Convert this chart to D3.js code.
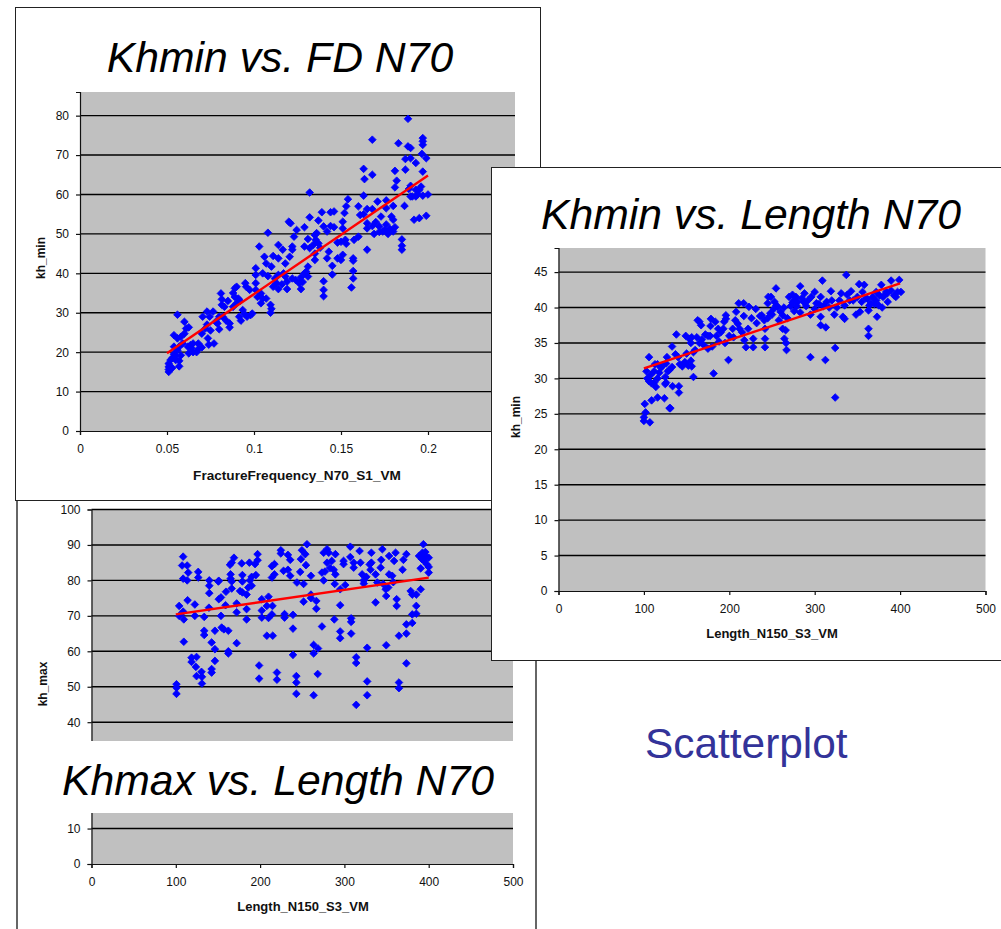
<!DOCTYPE html>
<html><head><meta charset="utf-8">
<script src="https://cdn.jsdelivr.net/npm/d3@7"></script>
<style>html,body{margin:0;padding:0;background:#fff}svg{display:block}text{font-family:"Liberation Sans",Arial,sans-serif}</style>
</head><body><div id="c"></div>
<script>
const fdPoints=[[.051,15],[.051,15.6],[.051,16.3],[.051,17.1],[.052,18],[.053,16],[.053,18.5],[.054,19.5],[.055,18],[.055,19],[.056,20.5],[.057,16.4],[.057,17.8],[.058,19.2],[.056,29.5],[.054,24.3],[.056,23.5],[.058,23.9],[.06,24.7],[.061,26],[.06,27.7],[.0625,26.3],[.054,21.4],[.057,21.4],[.059,22.2],[.062,21.4],[.0635,21.8],[.065,22.2],[.068,22.2],[.0625,19.7],[.065,20],[.067,20],[.064,21],[.068,20.8],[.07,21.2],[.07,24.7],[.072,26],[.0705,29],[.073,30.3],[.0765,30.3],[.0745,29],[.0735,23.5],[.074,21.9],[.077,22.2],[.078,27.7],[.073,27],[.075,25.5],[.081,34.9],[.0815,33.4],[.0815,32],[.085,33],[.083,31.5],[.082,29],[.08,29],[.084,28],[.079,27.3],[.08,25.8],[.086,27.3],[.086,26.3],[.089,36.2],[.09,36.6],[.088,35],[.089,34],[.091,33.6],[.092,33],[.09,32.4],[.088,31.5],[.0915,29],[.0925,28],[.0935,30.7],[.0945,29.7],[.096,29],[.098,29.4],[.099,29.8],[.095,37.5],[.0955,36.6],[.0975,35.8],[.101,37.5],[.101,39.6],[.101,41.3],[.103,46.8],[.108,50.3],[.106,44.2],[.107,42.5],[.105,40],[.108,39.3],[.11,41.7],[.111,44.4],[.114,43.8],[.114,47.2],[.1165,46],[.118,42.5],[.12,53.1],[.121,52.7],[.122,46.8],[.122,46],[.1205,44.2],[.101,35.8],[.102,34],[.104,34.9],[.105,33.6],[.104,32.4],[.107,33.6],[.1095,32],[.11,31],[.1095,30],[.111,36.6],[.113,37.5],[.114,36],[.112,38.7],[.114,39.6],[.118,39.2],[.119,37.9],[.119,36],[.122,38.7],[.124,38.3],[.126,37.5],[.127,36],[.129,40],[.131,41.7],[.131,39.2],[.13,40.4],[.123,49.3],[.1245,51],[.129,51.7],[.132,54.2],[.132,60.5],[.131,48.7],[.129,46.8],[.132,46.4],[.135,49.7],[.1355,48.5],[.137,47.6],[.135,45],[.135,43.4],[.139,55.5],[.144,55.5],[.146,55.7],[.137,53.4],[.14,51.9],[.144,52],[.146,51.7],[.142,50.6],[.148,47.8],[.143,45.5],[.142,43.8],[.145,41.9],[.145,39.7],[.14,38],[.14,35.8],[.14,34.2],[.148,43.8],[.151,44.7],[.15,43.4],[.157,43.8],[.157,43.2],[.157,40.6],[.157,38.7],[.156,36.4],[.151,53.1],[.152,55.3],[.153,57],[.154,58.8],[.151,51.4],[.1525,48.5],[.1575,48.5],[.16,49.3],[.165,46],[.16,57],[.163,59.7],[.163,66.5],[.1635,63.9],[.168,65],[.168,73.9],[.161,54.8],[.165,52.7],[.165,51.4],[.165,56.3],[.169,50],[.172,51.9],[.171,58.2],[.168,56.3],[.173,54.4],[.176,58.5],[.176,56.5],[.174,50.6],[.177,50],[.18,50.6],[.181,51.7],[.18,53.6],[.179,54.4],[.18,57.1],[.181,66],[.182,63.5],[.181,61.8],[.183,73],[.185,48.6],[.185,47],[.185,46],[.1865,57.1],[.187,66.3],[.187,69],[.1885,72.2],[.19,71.8],[.1885,79.2],[.19,69.2],[.193,68],[.197,74.3],[.197,73.5],[.197,72.6],[.1965,70.3],[.199,69.2],[.197,65.8],[.189,61.4],[.191,59.5],[.193,61.2],[.195,61.2],[.197,59.7],[.2,60],[.192,53.6],[.195,54],[.199,54.6],[.19,59.5],[.193,59.5],[.175,51],[.172,50.5],[.168,52],[.136,50.2],[.138,46.5],[.134,47.2],[.127,39],[.128,37.8],[.116,37.2],[.117,40],[.178,51.3],[.176,52.4],[.17,53],[.163,55],[.15,48],[.153,47.5],[.194,60],[.196,62],[.19,62.2]];
const fdTrend=[[.05,19.7],[.2,64.8]];

const lenMinPoints=[[100,24],[100,24.5],[102,25.2],[101,26.4],[107,23.8],[109,26.9],[116,27.3],[124,27.2],[130,25.8],[131,25.8],[133.6,28.9],[141,28.9],[141,28],[114,28.8],[104,30],[106,29.6],[109,29.3],[112,29.4],[106,33],[103,31],[108,30.5],[112,31],[113,32],[116,32],[118,30.8],[116,30],[120,31.5],[122,31.8],[126,32.1],[125,30.2],[126,29.4],[125,29.2],[128,31],[130,31.2],[133,31.6],[127,33],[133,34.5],[137,33.4],[138,36.2],[140,33],[142,32],[145,31.7],[148,32.3],[150,33.5],[152,31.8],[155,32.5],[156,31.7],[158,30.2],[149,36],[153,35.6],[155,35],[158,33.7],[160,34],[156,35.8],[162,35.8],[165,35],[168,35.5],[170,34.7],[163,38.2],[165,38],[167,37.5],[175,34.2],[181.6,30.7],[180,34.5],[175,36],[178.5,38.4],[183.6,38],[178,37.4],[177.5,36],[185,36],[188,35.2],[190,36.5],[193,37],[195,35],[194,38],[196,38.4],[196,38.9],[199,32.6],[205,35.8],[207,38.2],[208,39.4],[210,37.7],[211,40.6],[216.8,40.6],[217,38.8],[223,40.1],[231,39.8],[217.6,35.4],[219.5,34.4],[228,35.6],[228,34.4],[241.8,37],[241.8,35.6],[241.8,34.4],[241,38.2],[245.7,41.5],[248.8,41.5],[245,40.6],[253,40.8],[255,40.3],[254.7,42.7],[256.6,40.1],[262.5,38.9],[266,36.8],[262.5,37],[264.5,35.6],[266.4,35],[267,34],[283,43],[288,42],[278,41.5],[270,41.5],[272,40.2],[274,40.7],[268,38.5],[276,39.5],[280,40.8],[285,41.3],[290,40.2],[283,39.3],[309,43.8],[300,42.2],[307,41.5],[307,38.7],[307,37.5],[313,37.2],[295,33],[312.5,32.6],[324,34.3],[324,27.3],[337,44.6],[319,42.3],[329,41],[331,42],[342.6,42.3],[333,38.7],[335,38.4],[317,40],[323,39],[352,43.3],[358,43.2],[348.4,39],[353,39.4],[363,37],[363,36],[363,39.6],[364,40.3],[373,38.7],[372,42.2],[378,43.2],[379,40],[385.5,40.8],[389.5,43.8],[399,43.9],[397,42.2],[401,42.2],[393,41.7],[389.5,42.4],[383.6,42.2],[376,41.7],[368,41.5],[360,41.3],[356,42.2],[350,41.5],[341,41],[335,40.3],[300,39.8],[305,40.5],[295,39],[232,37.8],[236,38.8],[222,37],[215,36.5],[200,36],[245,38.5],[250,39],[258,38.2],[375,40.3],[370,40.5],[395,41.5],[385,42],[248,39.2],[252,39.8],[260,39.4],[264,40],[276,41],[274,41.8],[279,40.2],[287,40.8],[292,41],[296,41.5],[302,40.6],[310,40.2],[314,40.8],[320,41],[326,40],[338,41.8],[345,41],[355,40.8],[362,41.2],[366,40.6],[372,41],[380,41.5],[204,37],[212,37],[226,38.5],[238,38.9],[172,36.2],[187,37]];
const lenMinTrend=[[100,31.4],[400,43.4]];

const lenMaxPoints=[[100.8,50.7],[100.8,49.7],[100.8,48],[104,72.8],[108.7,86.7],[107.5,84.2],[113.5,84.2],[108.7,80.5],[113.5,80],[114.7,82.2],[114,74.4],[122.6,73.2],[122.6,70],[104,70],[109.5,69],[108.7,71.2],[109.5,62.7],[118.7,58.2],[118.7,57],[124.6,58.4],[123.8,55.6],[124.6,53],[130.5,54.2],[131,52.8],[131,50.9],[126.6,82.4],[126.6,80.8],[139.7,80],[139.7,78.5],[139.7,76.4],[139.3,72.3],[133.7,69.7],[133.7,65.8],[133.7,64.6],[142.5,62.5],[146.4,60.6],[142.5,55],[142.5,54],[146.4,57.3],[146.4,65.8],[150.4,79.7],[151,79.9],[151,74.7],[153.6,75.2],[153.6,70],[154.4,66.7],[157,66.2],[162.3,65.8],[162.3,60],[162.3,59.4],[159,73],[159.5,76.8],[166.3,77.7],[165,81.7],[165,80.5],[166.3,79.7],[164.3,84.4],[166.3,85],[169,86.4],[172.2,73.5],[172.2,71],[172.2,62.3],[178.2,84.8],[179,81.5],[179,79.7],[176.2,77],[179,76.6],[184,76],[184,69],[184,71.9],[187.3,85],[188,80],[190,81],[186,78],[190,78.5],[195,81.5],[194,84.6],[197,85.7],[197,87.4],[202,74.7],[202,71.5],[202,69.5],[198.8,56],[198.8,52.3],[208,64.4],[215,64.4],[210,75.4],[208,72.8],[210,69.4],[214.7,72.8],[214,70.4],[214,84],[217,84.6],[214,80.8],[217,81.7],[220,54],[220,52],[224.6,88.5],[224.6,87.6],[233,87.2],[235.7,85.8],[227.8,82.7],[233,83],[235.7,81.3],[229,69.5],[229,70.5],[239,70.3],[239,66.4],[239,59],[243,53],[243,51.2],[243,48],[243.7,79.4],[247.6,82.4],[248.4,86],[249.6,88.5],[253.6,87.4],[255.6,90.2],[254.4,84.3],[251.6,79],[251.6,74],[260.3,81.3],[260.3,76],[260.3,75],[266.7,74.2],[266.7,72],[263.5,61.8],[263.5,59.4],[268.7,60.8],[268.3,53.6],[263.5,47.6],[273.4,67],[273.4,82.2],[275.4,80],[275.4,87.8],[279.4,88.8],[279.4,85],[281.4,87.8],[285,85.5],[289.3,87.4],[287.3,83],[289.3,81.7],[288.5,79],[288,69],[295,77.5],[295,73],[295,65.6],[295,63.7],[301,78.7],[299,84.6],[299,85.5],[307,89.5],[307,86.6],[311,85],[311,83.6],[308,69.3],[308,68.3],[308,65],[314,58.3],[314,56.7],[314,44.9],[318,88.3],[319,85],[321,81.7],[323,80],[323,79.1],[327,61],[327,51.5],[327,47.6],[331,83],[332,87.8],[332,85],[337,81.7],[337,73.8],[339,79.4],[345,88.8],[343,83.6],[343.7,85.8],[349.6,61.7],[349,77.5],[349.6,75.6],[353,86.9],[353,81.7],[356.7,81.3],[359,85.5],[360.7,87.8],[362,74.7],[362,72.8],[364.7,64.4],[364.7,51.2],[364.7,49.6],[369,83],[370,85.8],[373.5,87.4],[373.5,65],[373.5,67.6],[373.5,56.6],[378.6,77],[380.5,76],[385.3,76],[385.3,72.8],[385.3,70.6],[380.5,70.4],[380.5,68],[390.5,77.5],[390.5,83.4],[393.7,90.2],[392.5,87.8],[388.5,86.9],[394.4,85.5],[400,86.4],[400,83.8],[400,82.2],[396.4,86.9],[392,86],[396,88],[398,84.5],[352,78],[346,79],[358,79.5],[326,81],[330,84.5],[277,82.5],[283,83.5]];
const lenMaxTrend=[[100,70.4],[400,80.8]];

const fdXTicks=[0,.05,.1,.15,.2,.25];
const fdYTicks=[0,10,20,30,40,50,60,70,80];
const lenMinXTicks=[0,100,200,300,400,500];
const lenMinYTicks=[0,5,10,15,20,25,30,35,40,45];
const lenMaxXTicks=[0,100,200,300,400,500];
const lenMaxYTicks=[0,10,40,50,60,70,80,90,100];

const svg=d3.select("#c").append("svg").attr("width",1001).attr("height",929);

function chart(o){
  const g=svg.append("g");
  g.append("rect").attr("x",o.frame[0]).attr("y",o.frame[1]).attr("width",o.frame[2]).attr("height",o.frame[3])
    .attr("fill","#fff").attr("stroke",o.frameColor).attr("stroke-width",o.frameWidth);
  const [L,T,R,B]=o.plot;
  const x=d3.scaleLinear().domain(o.xDomain).range([L,R]);
  const y=d3.scaleLinear().domain(o.yDomain).range([B,T]);
  g.append("rect").attr("x",L).attr("y",T).attr("width",R-L).attr("height",B-T).attr("fill","#c0c0c0");
  g.append("g").selectAll("line").data(o.yTicks.filter(d=>d>0)).join("line")
    .attr("x1",L).attr("x2",R).attr("y1",d=>y(d)).attr("y2",d=>y(d)).attr("stroke","#000").attr("stroke-width",1.4);
  const xa=g.append("g").attr("transform",`translate(0,${B})`).call(d3.axisBottom(x).tickValues(o.xTicks).tickFormat(d=>String(d)).tickSize(4).tickPadding(9));
  const ya=g.append("g").attr("transform",`translate(${L},0)`).call(d3.axisLeft(y).tickValues(o.yTicks).tickFormat(d=>String(d)).tickSize(4).tickPadding(7));
  [xa,ya].forEach(a=>{a.selectAll("text").attr("font-size",12).attr("fill","#111").attr("font-family",'"Liberation Sans",Arial,sans-serif');
    a.selectAll("line,path").attr("stroke","#111").attr("stroke-width",1.2);});
  const sym=d3.symbol().type(d3.symbolSquare).size(29);
  g.append("g").selectAll("path").data(o.points).join("path").attr("d",sym)
    .attr("transform",d=>`translate(${x(d[0])},${y(d[1])}) rotate(45)`).attr("fill","#0000ff").attr("stroke","#0000ff").attr("stroke-width",.8);
  g.append("path").attr("d",d3.line().x(d=>x(d[0])).y(d=>y(d[1]))(o.trend)).attr("stroke","#f00").attr("stroke-width",2.4).attr("fill","none");
  if(o.cover){g.append("rect").attr("x",o.cover[0]).attr("y",o.cover[1]).attr("width",o.cover[2]).attr("height",o.cover[3]).attr("fill","#fff");}
  g.append("text").attr("x",o.titleAt[0]).attr("y",o.titleAt[1]).attr("text-anchor","middle").attr("font-size",42.7)
    .attr("font-style","italic").attr("fill","#000").text(o.title);
  g.append("text").attr("x",o.xLabelAt[0]).attr("y",o.xLabelAt[1]).attr("text-anchor","middle").attr("font-size",o.xLabelSize).attr("font-weight","bold").attr("fill","#111").text(o.xLabel);
  g.append("text").attr("transform",`translate(${o.yLabelAt[0]},${o.yLabelAt[1]}) rotate(-90)`).attr("text-anchor","middle").attr("font-size",12).attr("font-weight","bold").attr("fill","#111").text(o.yLabel);
}

chart({frame:[17,495,519,460],frameColor:"#666",frameWidth:2,plot:[91.5,509.5,513,864],xDomain:[0,500],yDomain:[0,100],
  xTicks:lenMaxXTicks,yTicks:lenMaxYTicks,points:lenMaxPoints,trend:lenMaxTrend,cover:[18,741,517,72],
  title:"Khmax vs. Length N70",titleAt:[278,795],xLabel:"Length_N150_S3_VM",xLabelSize:13,xLabelAt:[303,911],yLabel:"kh_max",yLabelAt:[47,684]});
chart({frame:[15.5,7.5,525,493],frameColor:"#222",frameWidth:1,plot:[80,92,515,431],xDomain:[0,.25],yDomain:[0,86],
  xTicks:fdXTicks,yTicks:fdYTicks,points:fdPoints,trend:fdTrend,
  title:"Khmin vs. FD N70",titleAt:[280,72],xLabel:"FractureFrequency_N70_S1_VM",xLabelSize:13.6,xLabelAt:[297,480],yLabel:"kh_min",yLabelAt:[45,258]});
chart({frame:[491.5,167.5,520,493],frameColor:"#222",frameWidth:1,plot:[558.5,248,985.5,591],xDomain:[0,500],yDomain:[0,48.4],
  xTicks:lenMinXTicks,yTicks:lenMinYTicks,points:lenMinPoints,trend:lenMinTrend,
  title:"Khmin vs. Length N70",titleAt:[751,229],xLabel:"Length_N150_S3_VM",xLabelSize:13,xLabelAt:[772,638],yLabel:"kh_min",yLabelAt:[520,417]});

svg.append("text").attr("x",645).attr("y",758).attr("font-size",42.4).attr("fill","#333399").text("Scatterplot");
</script></body></html>
